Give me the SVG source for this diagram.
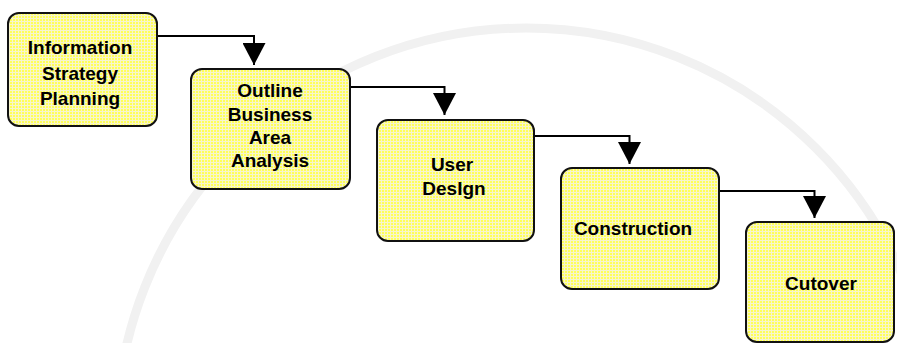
<svg xmlns="http://www.w3.org/2000/svg" width="897" height="343" viewBox="0 0 897 343">
  <style>
    .box { fill: url(#dither); stroke: #111; stroke-width: 2; }
    .lbl { font-family: "Liberation Sans", Arial, sans-serif; font-weight: bold; font-size: 19px; fill: #000; text-anchor: middle; }
    .wire { fill: none; stroke: #000; stroke-width: 2; marker-end: url(#head); }
  </style>
  <defs>
    <!-- dithered yellow fill -->
    <pattern id="dither" width="3" height="3" patternUnits="userSpaceOnUse">
      <rect width="3" height="3" fill="#ffff58"/>
      <rect y="0" width="3" height="1" fill="#f7f5cc"/>
      <rect x="0" width="1" height="3" fill="#f7f5cc"/>
    </pattern>
    <marker id="head" markerUnits="userSpaceOnUse" markerWidth="23" markerHeight="23" refX="22" refY="11.5" orient="auto">
      <path d="M0,0 L22,11.5 L0,23 Z" fill="#000"/>
    </marker>
  </defs>

  <rect width="897" height="343" fill="#fff"/>
  <!-- faint background seal ring -->
  <circle cx="526" cy="438" r="410" fill="none" stroke="#f1f1f1" stroke-width="9"/>

  <g id="connectors">
    <path class="wire" d="M157,36 H254 V65"/>
    <path class="wire" d="M350,87 H444.5 V115"/>
    <path class="wire" d="M534,136 H629.5 V164"/>
    <path class="wire" d="M719,191 H814.5 V218"/>
  </g>

  <g id="info-strategy-planning">
    <rect class="box" x="8" y="13" width="149" height="113" rx="11"/>
    <text class="lbl" x="80" y="54">Information</text>
    <text class="lbl" x="80" y="80">Strategy</text>
    <text class="lbl" x="80" y="105">Planning</text>
  </g>

  <g id="outline-business-area-analysis">
    <rect class="box" x="191" y="69" width="159" height="120" rx="11"/>
    <text class="lbl" x="270" y="97">Outline</text>
    <text class="lbl" x="270" y="121">Business</text>
    <text class="lbl" x="270" y="144">Area</text>
    <text class="lbl" x="270" y="167">Analysis</text>
  </g>

  <g id="user-design">
    <rect class="box" x="377" y="120" width="157" height="121" rx="11"/>
    <text class="lbl" x="452" y="171">User</text>
    <text class="lbl" x="454" y="195">DesIgn</text>
  </g>

  <g id="construction">
    <rect class="box" x="561" y="168" width="158" height="121" rx="11"/>
    <text class="lbl" x="633" y="235">Construction</text>
  </g>

  <g id="cutover">
    <rect class="box" x="746" y="222" width="148" height="120" rx="11"/>
    <text class="lbl" x="821" y="290">Cutover</text>
  </g>
</svg>
